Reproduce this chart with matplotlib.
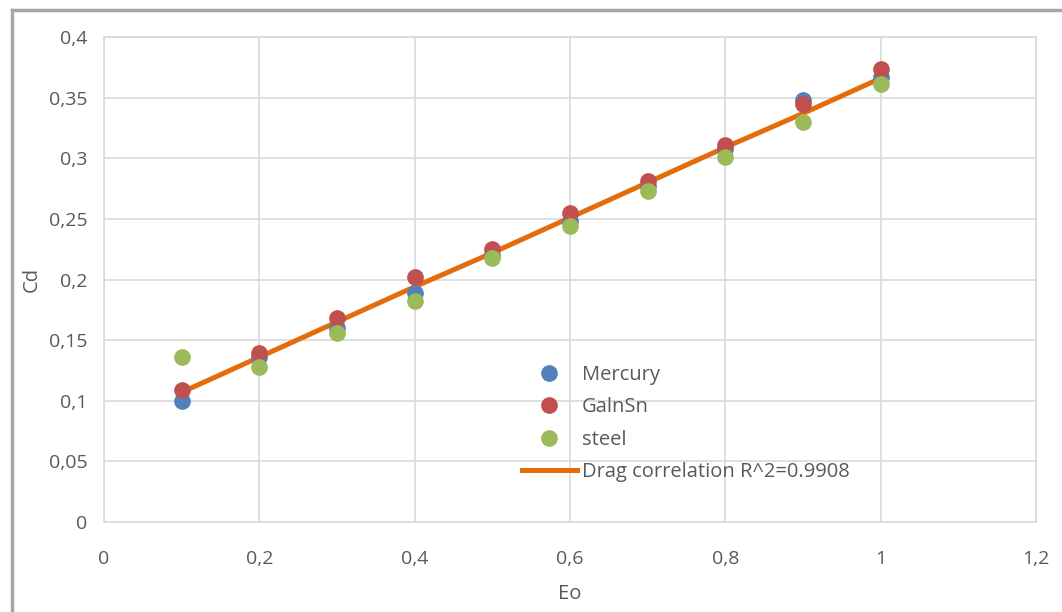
import matplotlib
matplotlib.use('Agg')
import matplotlib.pyplot as plt
from matplotlib.lines import Line2D

eo = [0.1, 0.2, 0.3, 0.4, 0.5, 0.6, 0.7, 0.8, 0.9, 1.0]
mercury = [0.100, 0.136, 0.160, 0.189, 0.220, 0.248, 0.277, 0.308, 0.348, 0.367]
gainsn = [0.109, 0.139, 0.168, 0.202, 0.225, 0.255, 0.281, 0.311, 0.345, 0.374]
steel = [0.136, 0.128, 0.156, 0.182, 0.218, 0.244, 0.273, 0.301, 0.330, 0.361]
drag_corr = [0.107, 0.136, 0.165, 0.194, 0.222, 0.251, 0.280, 0.309, 0.337, 0.366]

xticks = [0, 0.2, 0.4, 0.6, 0.8, 1, 1.2]
xticklabels = ['0', '0,2', '0,4', '0,6', '0,8', '1', '1,2']
yticks = [0, 0.05, 0.1, 0.15, 0.2, 0.25, 0.3, 0.35, 0.4]
yticklabels = ['0', '0,05', '0,1', '0,15', '0,2', '0,25', '0,3', '0,35', '0,4']

plt.rcParams['font.family'] = ['Open Sans', 'DejaVu Sans']
txt = '#595959'
grid = '#D9D9D9'

fig = plt.figure(figsize=(10.62, 6.12), dpi=100)
ax = fig.add_axes([0.0979, 0.147, 0.8776, 0.7925])

ax.plot(eo, drag_corr, color='#E46C0A', lw=3.6, zorder=2,
        label='Drag correlation R^2=0.9908')
ax.plot(eo, mercury, 'o', ms=11, color='#4F81BD', zorder=3, label='Mercury')
ax.plot(eo, gainsn, 'o', ms=11, color='#C0504D', zorder=4, label='GalnSn')
ax.plot(eo, steel, 'o', ms=11, color='#9BBB59', zorder=5, label='steel')

ax.set_xlim(0, 1.2)
ax.set_ylim(0, 0.4)
ax.set_xticks(xticks)
ax.set_xticklabels(xticklabels)
ax.set_yticks(yticks)
ax.set_yticklabels(yticklabels)
ax.tick_params(length=0, labelsize=14, labelcolor=txt)
ax.tick_params(axis='x', pad=20)
ax.tick_params(axis='y', pad=12)
ax.grid(True, color=grid, lw=1.2)
ax.set_axisbelow(True)
for s in ax.spines.values():
    s.set_color(grid)
    s.set_linewidth(1.2)

ax.set_xlabel('Eo', fontsize=14.5, color=txt, labelpad=12)
ax.set_ylabel('Cd', fontsize=14.5, color=txt, labelpad=5)

h, l = ax.get_legend_handles_labels()
order = [1, 2, 3, 0]
ax.legend([h[i] for i in order], [l[i] for i in order], loc='upper left',
          bbox_to_anchor=(0.438, 0.345), frameon=False, fontsize=14.5,
          labelcolor=txt, handlelength=2.7, handletextpad=0.25,
          labelspacing=0.62, borderpad=0)

# outer frame (left and top edges)
fig.add_artist(Line2D([0.011, 0.011], [0, 0.984], color='#A6A6A6', lw=2.5,
                      transform=fig.transFigure))
fig.add_artist(Line2D([0.011, 1], [0.984, 0.984], color='#A6A6A6', lw=2.5,
                      transform=fig.transFigure))

fig.savefig('out.png', dpi=100)
